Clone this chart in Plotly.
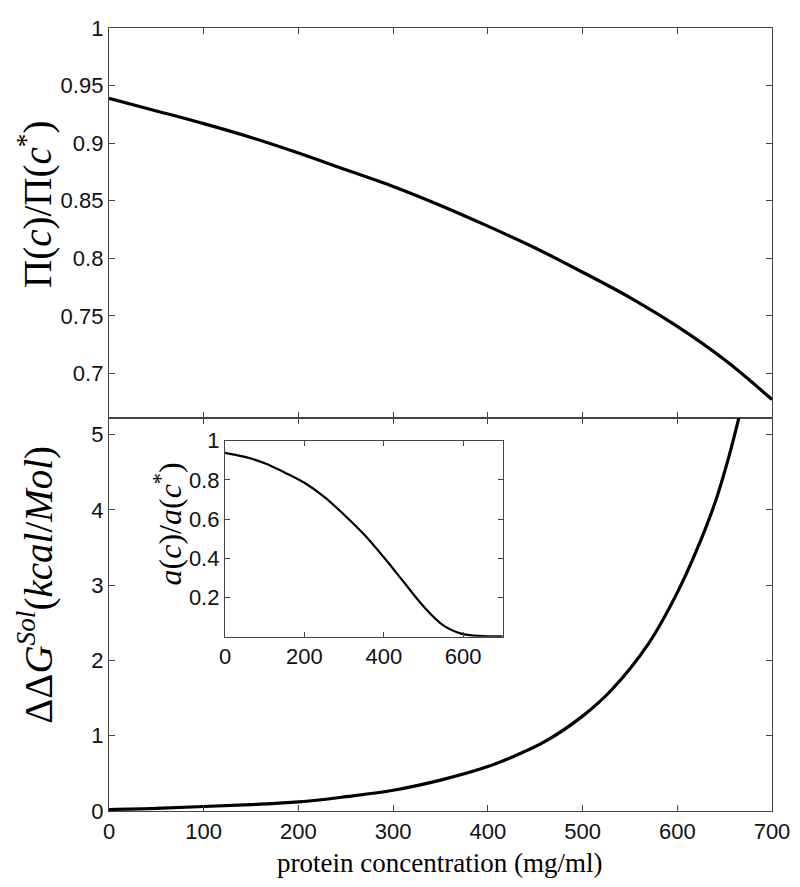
import plotly.graph_objects as go

# protein concentration (mg/ml) and values
conc_top = [0, 50, 100, 150, 200, 250, 300, 350, 400, 450, 500, 550, 600, 650, 700]
pi_ratio = [0.939, 0.928, 0.917, 0.905, 0.8915, 0.877, 0.8625, 0.846, 0.828,
            0.809, 0.788, 0.766, 0.741, 0.712, 0.6775]

conc_bot = [0, 50, 100, 150, 200, 250, 300, 350, 400, 430, 460, 500, 530, 570,
            600, 620, 640, 655, 665]
ddg_sol = [0.02, 0.035, 0.06, 0.085, 0.12, 0.19, 0.275, 0.41, 0.59, 0.74, 0.92,
           1.26, 1.6, 2.23, 2.9, 3.45, 4.1, 4.73, 5.22]

conc_inset = [0, 50, 100, 150, 200, 250, 300, 350, 400, 450, 500, 550, 600, 650, 700]
act_ratio = [0.938, 0.917, 0.885, 0.838, 0.785, 0.713, 0.622, 0.522, 0.405,
             0.28, 0.155, 0.058, 0.013, 0.003, 0.002]

AX = "#444444"
TICKFONT = dict(family="Liberation Sans, Arial, sans-serif", size=22, color="#111111")
SERIF = "Liberation Serif, Times New Roman, serif"

fig = go.Figure()

fig.add_trace(go.Scatter(x=conc_top, y=pi_ratio, mode="lines", line=dict(color="black", width=3.2, shape="spline"),
                         xaxis="x", yaxis="y", showlegend=False))
fig.add_trace(go.Scatter(x=conc_bot, y=ddg_sol, mode="lines", line=dict(color="black", width=3.2, shape="spline"),
                         xaxis="x2", yaxis="y2", showlegend=False))
fig.add_trace(go.Scatter(x=conc_inset, y=act_ratio, mode="lines", line=dict(color="black", width=2.2, shape="spline"),
                         xaxis="x3", yaxis="y3", showlegend=False))

axis_common = dict(showline=True, linecolor=AX, linewidth=1.3, mirror="ticks", ticks="inside",
                   ticklen=6, tickcolor=AX, showgrid=False, zeroline=False, tickfont=TICKFONT)

# page body adds an 8px offset, so the figure is a bit smaller than the window
fig.update_layout(
    width=792, height=879,
    margin=dict(l=101, r=28, t=8, b=76),
    paper_bgcolor="white", plot_bgcolor="white",
    xaxis=dict(axis_common, domain=[0, 1], anchor="y", range=[0, 700], dtick=100, showticklabels=False),
    yaxis=dict(axis_common, domain=[0.502, 1], anchor="x", range=[0.6615, 1],
               tickvals=[0.7, 0.75, 0.8, 0.85, 0.9, 0.95, 1],
               ticktext=["0.7", "0.75", "0.8", "0.85", "0.9", "0.95", "1"]),
    xaxis2=dict(axis_common, domain=[0, 1], anchor="y2", range=[0, 700], dtick=100),
    yaxis2=dict(axis_common, domain=[0, 0.502], anchor="x2", range=[0, 5.22], dtick=1),
    xaxis3=dict(axis_common, domain=[0.175, 0.594], anchor="y3", range=[0, 700], dtick=200, ticklen=5),
    yaxis3=dict(axis_common, domain=[0.2226, 0.473], anchor="x3", range=[0, 1],
                tickvals=[0.2, 0.4, 0.6, 0.8, 1], ticktext=["0.2", "0.4", "0.6", "0.8", "1"], ticklen=5),
)

annotations = [
    dict(text="Π(<i>c</i>)/Π(<i>c</i><sup>*</sup>)", x=-0.112, y=0.775, textangle=-90,
         font=dict(family=SERIF, size=39, color="black")),
    dict(text="ΔΔ<i>G</i><sup><i>Sol</i></sup>(<i>kcal</i>/<i>Mol</i>)", x=-0.11, y=0.289, textangle=-90,
         font=dict(family=SERIF, size=39, color="black")),
    dict(text="<i>a</i>(<i>c</i>)/<i>a</i>(<i>c</i><sup>*</sup>)", x=0.089, y=0.366, textangle=-90,
         font=dict(family=SERIF, size=32, color="black")),
    dict(text="protein concentration (mg/ml)", x=0.499, y=-0.066,
         font=dict(family=SERIF, size=27, color="black")),
]
for a in annotations:
    fig.add_annotation(xref="paper", yref="paper", showarrow=False, xanchor="center", yanchor="middle", **a)

fig.write_html("out.html")
